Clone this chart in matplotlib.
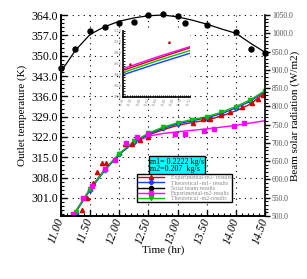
import matplotlib.pyplot as plt
from matplotlib.ticker import AutoMinorLocator, FormatStrFormatter, MultipleLocator
from matplotlib.lines import Line2D

plt.rcParams['font.family'] = ['Liberation Serif', 'DejaVu Serif']

# theoretical / fitted lines (time in hr, outlet temperature in K)
t_line = [11.20, 11.25, 11.50, 11.75, 12.00, 12.25, 12.50, 12.75, 13.00, 13.25, 13.50, 13.75, 14.00, 14.25, 14.50]
theo_m1 = [294.0, 296.0, 303.8, 310.5, 316.0, 320.2, 323.0, 325.0, 326.5, 327.6, 328.6, 330.0, 332.0, 334.3, 337.8]
theo_m2 = [294.2, 296.3, 304.1, 310.8, 316.3, 320.5, 323.3, 325.4, 326.9, 328.0, 329.0, 330.5, 332.5, 334.8, 338.0]
exp_m1_line = [294.1, 296.2, 304.0, 310.6, 316.1, 320.2, 322.7, 324.5, 326.0, 327.0, 327.8, 329.2, 331.0, 333.3, 337.4]
exp_m2_line = [294.3, 296.4, 304.2, 310.9, 316.2, 320.0, 322.3, 323.2, 323.8, 324.3, 324.8, 325.4, 326.0, 326.8, 327.6]

# experimental points
exp_m1_t = [11.36, 11.44, 11.55, 11.61, 11.70, 11.78, 12.10, 12.21, 12.35, 12.50, 13.27, 13.44, 13.55, 13.75, 13.90, 14.10, 14.27, 14.38, 14.47]
exp_m1_T = [296.9, 300.9, 306.3, 310.1, 312.9, 312.9, 319.6, 319.6, 321.0, 321.9, 326.9, 328.1, 328.2, 329.6, 330.7, 332.4, 333.8, 335.0, 336.5]
exp_m2_t = [11.21, 11.38, 11.53, 11.75, 11.92, 12.12, 12.31, 12.50, 12.96, 13.13, 13.45, 13.62, 13.97, 14.14]
exp_m2_T = [295.5, 300.9, 305.1, 310.9, 314.0, 319.8, 321.9, 323.0, 323.0, 323.0, 324.1, 324.7, 325.8, 326.8]

# beam solar radiation (W/m2)
solar_t = [11.00, 11.24, 11.50, 11.75, 12.00, 12.25, 12.50, 12.75, 13.00, 13.13, 13.50, 14.00, 14.26, 14.50]
solar_pts = [905, 957, 1006, 1017, 1028, 1031, 1050, 1053, 1047, 1028, 1022, 1003, 957, 946]
solar_fit_t = [11.00, 11.25, 11.50, 11.75, 12.00, 12.25, 12.50, 12.75, 13.00, 13.25, 13.50, 13.75, 14.00, 14.25, 14.50]
solar_fit = [895, 954, 997, 1018, 1033, 1042, 1048, 1050, 1045, 1036, 1025, 1012, 1000, 973, 948]

# zoomed inset
inset_t = [11.56, 11.64, 11.72]
inset_m2 = [305.1, 307.2, 309.1]
inset_m1 = [304.8, 306.9, 308.9]
inset_th2 = [304.4, 306.5, 308.4]
inset_th1 = [304.0, 306.0, 307.9]
inset_pts_t = [11.575, 11.67]
inset_pts_T = [306.0, 310.0]

fig = plt.figure(figsize=(3.07, 2.79), dpi=100)
ax = fig.add_axes([0.1987, 0.2258, 0.6645, 0.7204])
ax2 = ax.twinx()

grid_ls = (0, (1, 4))
ax.grid(True, which='major', linestyle=grid_ls, color='k', linewidth=0.8)

ax.plot(t_line, exp_m1_line, color='#d00000', lw=1)
ax.plot(t_line, exp_m2_line, color='#ff00ff', lw=1)
ax.plot(t_line, theo_m1, color='#1a3cff', lw=1, marker='P', ms=3, markevery=slice(1, None))
ax.plot(t_line, theo_m2, color='#00c000', lw=1, marker='v', ms=3, markevery=slice(1, None))
ax.plot(exp_m1_t, exp_m1_T, ls='none', marker='^', color='#d00000', ms=3)
ax.plot(exp_m2_t, exp_m2_T, ls='none', marker='s', color='#ff00ff', ms=3)

ax2.plot(solar_fit_t, solar_fit, color='k', lw=0.9, clip_on=False)
ax2.plot(solar_t, solar_pts, ls='none', marker='o', color='k', ms=3.6, clip_on=False)

ax.set_xlim(11.0, 14.5)
ax.set_ylim(294.8, 364.0)
ax2.set_ylim(500, 1050)

ax.xaxis.set_major_locator(MultipleLocator(0.5))
ax.xaxis.set_minor_locator(AutoMinorLocator(5))
ax.yaxis.set_major_locator(MultipleLocator(7))
ax.yaxis.set_minor_locator(AutoMinorLocator(5))
ax2.yaxis.set_major_locator(MultipleLocator(50))
ax2.yaxis.set_minor_locator(AutoMinorLocator(5))
ax.xaxis.set_major_formatter(FormatStrFormatter('%.2f'))
ax.yaxis.set_major_formatter(FormatStrFormatter('%.1f'))
ax2.yaxis.set_major_formatter(FormatStrFormatter('%.1f'))

ax.tick_params(axis='both', which='major', direction='in', length=4, width=1, labelsize=8.6)
ax.tick_params(axis='both', which='minor', direction='in', length=2, width=0.8)
ax.tick_params(axis='x', pad=2)
ax.tick_params(axis='y', pad=2)
ax2.tick_params(axis='y', which='major', direction='out', length=3.5, width=1, labelsize=5.5,
                labelcolor='#505050', pad=1.5)
ax2.tick_params(axis='y', which='minor', direction='out', length=2, width=0.8)
for lab in ax.get_xticklabels():
    lab.set_rotation(70)
    lab.set_ha('right')
    lab.set_va('center')
    lab.set_rotation_mode('anchor')
    lab.set_style('italic')

for a in (ax, ax2):
    a.spines['top'].set_visible(False)
    for s in a.spines.values():
        s.set_linewidth(1.2)
ax.spines['right'].set_visible(False)

ax.set_xlabel('Time (hr)', fontsize=8)
ax.xaxis.set_label_coords(0.5, -0.145)
ax.set_ylabel('Outlet temperature (K)', fontsize=8)
ax.yaxis.set_label_coords(-0.167, 0.5)
ax2.set_ylabel('Beam solar radiation (W/m2)', fontsize=8)
ax2.yaxis.set_label_coords(1.125, 0.5)

handles = [
    Line2D([], [], color='#d00000', lw=1, marker='^', ms=3),
    Line2D([], [], color='#1a3cff', lw=1, marker='P', ms=3),
    Line2D([], [], color='k', lw=1, marker='o', ms=3),
    Line2D([], [], color='#ff00ff', lw=1, marker='s', ms=3),
    Line2D([], [], color='#00c000', lw=1, marker='v', ms=3),
]
labels = ['Experimental-m1- results', 'Theoretical -m1- results', 'Solar beam results',
          'Experimental-m2-results', 'Theoretical -m2-results']
leg = ax2.legend(handles, labels, loc='lower left', bbox_to_anchor=(0.3725, 0.0697),
                 fontsize=4.2, labelspacing=0.02, handlelength=4.5, handletextpad=1.2,
                 borderpad=0.15, borderaxespad=0, fancybox=False, framealpha=1,
                 edgecolor='k', labelcolor='#8a8a8a')
leg.get_frame().set_linewidth(1)

ax2.text(0.436, 0.251, 'm1= 0.2222 kg/s\nm2=0.207  kg/s', transform=ax2.transAxes,
         fontsize=5.8, va='center', ha='left', linespacing=0.95,
         bbox=dict(boxstyle='square,pad=0.15', facecolor='#00ffff', edgecolor='k', linewidth=1))

# inset
ins = fig.add_axes([0.4016, 0.6534, 0.2175, 0.2366])
ins.plot(inset_t, inset_th1, color='#1a3cff', lw=1)
ins.plot(inset_t, inset_th2, color='#00c000', lw=1)
ins.plot(inset_t, inset_m1, color='#d00000', lw=1)
ins.plot(inset_t, inset_m2, color='#ff00ff', lw=1)
ins.plot(inset_pts_t, inset_pts_T, ls='none', marker='^', color='#d00000', ms=1.2)
ins.set_xlim(11.56, 11.72)
ins.set_ylim(300, 312)
ins.xaxis.set_major_locator(MultipleLocator(0.02))
ins.xaxis.set_minor_locator(AutoMinorLocator(4))
ins.yaxis.set_major_locator(MultipleLocator(2))
ins.yaxis.set_minor_locator(AutoMinorLocator(4))
ins.xaxis.set_major_formatter(FormatStrFormatter('%.2f'))
ins.yaxis.set_major_formatter(FormatStrFormatter('%.1f'))
ins.tick_params(which='both', direction='in', length=1.5, width=0.6, labelsize=2.6,
                labelcolor='#707070', pad=1)
for lab in ins.get_xticklabels():
    lab.set_rotation(70)
    lab.set_ha('right')
    lab.set_va('center')
    lab.set_rotation_mode('anchor')
for s in ('top', 'right'):
    ins.spines[s].set_visible(False)
for s in ('left', 'bottom'):
    ins.spines[s].set_linewidth(1.2)

fig.savefig('out.png', dpi=100)
